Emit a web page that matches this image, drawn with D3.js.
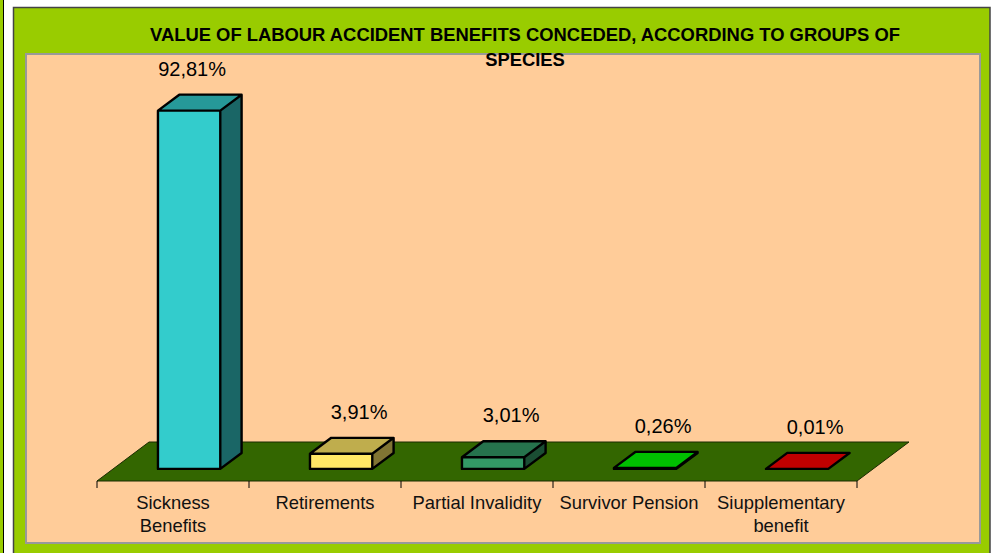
<!DOCTYPE html>
<html>
<head>
<meta charset="utf-8">
<script src="https://cdn.jsdelivr.net/npm/d3@7"></script>
<style>
  body { margin: 0; background: #fff; }
  svg { display: block; font-family: Arial, "Liberation Sans", sans-serif; }
</style>
</head>
<body>
<svg id="chart" width="994" height="553"></svg>
<script>
// values
var titleLines = ['VALUE OF LABOUR ACCIDENT BENEFITS CONCEDED, ACCORDING TO GROUPS OF', 'SPECIES'];
var categories = ['Sickness Benefits', 'Retirements', 'Partial Invalidity', 'Survivor Pension', 'Siupplementary benefit'];
var values = [92.81, 3.91, 3.01, 0.26, 0.01];
var barColors = ['#33CCCC', '#FFE766', '#339966', '#00FF00', '#FF0000'];

var svg = d3.select('#chart');

// frame stuff
svg.append('rect').attr('x', -2).attr('y', -2).attr('width', 5.5).attr('height', 560)
	.attr('fill', '#99CC00').attr('stroke', '#000').attr('stroke-width', 1);
svg.append('rect').attr('x', 13.5).attr('y', 7.5).attr('width', 976.5).attr('height', 550)
	.attr('fill', '#99CC00').attr('stroke', '#444').attr('stroke-width', 1.5);
svg.append('rect').attr('x', 26).attr('y', 54).attr('width', 954).attr('height', 489)
	.attr('fill', '#FFCC99').attr('stroke', '#999').attr('stroke-width', 2);

// 3d geometry
var floorY = 481;
var depthX = 52, depthY = 39;
var zFront = 0.31, zBack = 0.72;

var x = d3.scaleBand().domain(categories).range([97, 857]).paddingInner(0);
var h = d3.scaleLinear().domain([0, 100]).range([0, 386]);
var barW = x.bandwidth() * 0.41;

var fmt = d3.formatLocale({decimal: ',', thousands: '.', grouping: [3], currency: ['', '']}).format('.2f');

// floor
var x0 = x.range()[0], x1 = x.range()[1];
svg.append('polygon')
	.attr('points', [[x0, floorY], [x1, floorY], [x1 + depthX, floorY - depthY], [x0 + depthX, floorY - depthY]].join(' '))
	.attr('fill', '#336600').attr('stroke', '#1a2a00').attr('stroke-width', 1);

// ticks along the front edge
var tickXs = categories.map(function(c) { return x(c); }).concat([x1]);
svg.selectAll('line.tick').data(tickXs).enter().append('line')
	.attr('class', 'tick')
	.attr('x1', function(d) { return d; }).attr('x2', function(d) { return d; })
	.attr('y1', floorY).attr('y2', floorY + 7)
	.attr('stroke', '#000').attr('stroke-width', 1);

// bars
var fdx = zFront * depthX, fdy = zFront * depthY;
var bdx = (zBack - zFront) * depthX, bdy = (zBack - zFront) * depthY;

function barGeom(c, v) {
	var cx = x(c) + x.bandwidth() / 2 + fdx;
	var g = {};
	g.l = cx - barW / 2;
	g.r = cx + barW / 2;
	g.b = floorY - fdy;
	g.t = g.b - h(v);
	g.cx = cx;
	return g;
}

var bars = svg.selectAll('g.bar').data(categories).enter().append('g').attr('class', 'bar');

bars.each(function(c, i) {
	var g = barGeom(c, values[i]);
	var sel = d3.select(this);
	var base = d3.color(barColors[i]);
	var top = d3.rgb(base.r * 0.75, base.g * 0.75, base.b * 0.75);
	var side = d3.rgb(base.r * 0.5, base.g * 0.5, base.b * 0.5);

	sel.append('polygon')
		.attr('points', [[g.r, g.t], [g.r + bdx, g.t - bdy], [g.r + bdx, g.b - bdy], [g.r, g.b]].join(' '))
		.attr('fill', side);
	sel.append('polygon')
		.attr('points', [[g.l, g.t], [g.r, g.t], [g.r + bdx, g.t - bdy], [g.l + bdx, g.t - bdy]].join(' '))
		.attr('fill', top);
	sel.append('rect')
		.attr('x', g.l).attr('y', g.t).attr('width', barW).attr('height', g.b - g.t)
		.attr('fill', base);
	// outline
	sel.append('path')
		.attr('d', 'M' + [g.l, g.b] + 'L' + [g.l, g.t] + 'L' + [g.l + bdx, g.t - bdy] + 'L' + [g.r + bdx, g.t - bdy] +
			'L' + [g.r + bdx, g.b - bdy] + 'L' + [g.r, g.b] + 'Z' +
			'M' + [g.l, g.t] + 'L' + [g.r, g.t] + 'L' + [g.r + bdx, g.t - bdy] + 'M' + [g.r, g.t] + 'L' + [g.r, g.b])
		.attr('fill', 'none').attr('stroke', '#000').attr('stroke-width', 2.4).attr('stroke-linejoin', 'round');

	// the tall bar's label sits a bit more to the left in excel
	var labelShift = h(values[i]) > 100 ? 3 : 18;
	sel.append('text')
		.attr('x', g.cx + labelShift).attr('y', g.t - 35)
		.attr('text-anchor', 'middle').attr('font-size', '20px').attr('fill', '#000')
		.text(fmt(values[i]) + '%');
});

// category labels, wrapped to the band width
var catLabels = svg.selectAll('text.cat').data(categories).enter().append('text')
	.attr('class', 'cat')
	.attr('text-anchor', 'middle').attr('font-size', '18.4px').attr('fill', '#111')
	.attr('y', 509);

catLabels.each(function(c) {
	var t = d3.select(this);
	var cx = x(c) + x.bandwidth() / 2;
	var words = c.split(' ');
	var line = [];
	var tspan = t.append('tspan').attr('x', cx).attr('dy', 0);
	words.forEach(function(w) {
		line.push(w);
		tspan.text(line.join(' '));
		if (tspan.node().getComputedTextLength() > 141 && line.length > 1) {
			line.pop();
			tspan.text(line.join(' '));
			line = [w];
			tspan = t.append('tspan').attr('x', cx).attr('dy', 23).text(w);
		}
	});
});

// title
svg.selectAll('text.title').data(titleLines).enter().append('text')
	.attr('class', 'title')
	.attr('x', 525).attr('y', function(d, i) { return 40.7 + i * 25; })
	.attr('text-anchor', 'middle').attr('font-size', '18.4px').attr('font-weight', 'bold').attr('fill', '#000')
	.text(function(d) { return d; });
</script>
</body>
</html>
